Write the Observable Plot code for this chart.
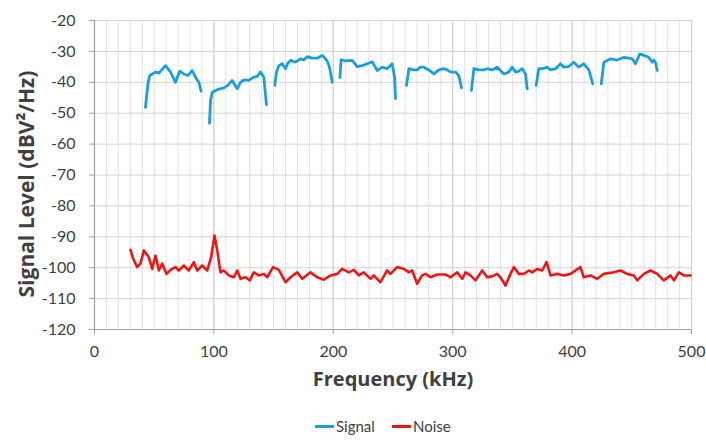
<!DOCTYPE html>
<html>
<head>
<meta charset="utf-8">
<script src="https://cdn.jsdelivr.net/npm/d3@7"></script>
<script src="https://cdn.jsdelivr.net/npm/@observablehq/plot@0.6"></script>
<style>
  html, body { margin: 0; padding: 0; background: #fff; }
  #chart { width: 706px; }
  .legend { position: relative; height: 37px; width: 706px; font-family: Lato, "Open Sans", sans-serif; font-size: 15px; color: #404040; }
  .legend .item { position: absolute; top: 11px; height: 20px; line-height: 20px; display: flex; align-items: center; }
  .legend .sw { display: inline-block; width: 19px; height: 3px; margin-right: 2px; }
</style>
</head>
<body>
<div id="chart"></div>
<script>
// Axis ticks
const xTicks = [0, 100, 200, 300, 400, 500];
const xMinorTicks = d3.range(0, 501, 10);
const yTicks = [-120, -110, -100, -90, -80, -70, -60, -50, -40, -30, -20];

// Signal (kHz, dBV²/Hz) in separate sweep segments
const signalSeg = [
  1,1,1,1,1,1,1,1,1,1,1,1,1,1,1,
  2,2,2,2,2,2,2,2,2,2,2,2,2,2,2,2,
  3,3,3,3,3,3,3,3,3,3,3,3,3,3,3,3,3,3,
  4,4,4,4,4,4,4,4,4,4,4,4,4,4,
  5,5,5,5,5,5,5,5,5,5,5,5,5,5,5,
  6,6,6,6,6,6,6,6,6,6,6,6,6,6,6,
  7,7,7,7,7,7,7,7,7,7,7,7,7,7,
  8,8,8,8,8,8,8,8,8,8,8,8,8,8,8
];
const signalFreq = [
  42.7,44.7,46.3,51.1,53.9,59.5,63.7,67.8,71.4,74.8,78.2,81.8,85.4,87.4,89.3,
  96.3,97.2,98.6,102.8,108.3,111.7,115.3,119.5,122.3,125.1,129.2,133.4,136.3,139,141.8,144,
  151,152.4,154.4,157.2,160,161.9,164.2,168.3,172.5,175.3,178.1,182.3,186.5,190.7,193.5,195.4,197.1,199.1,
  205.5,206.6,210.2,215.8,220,224.2,228.4,232.6,236.8,241,245.1,249.3,251.3,252.1,
  261.3,263.3,267.4,270.2,273,275.8,280,284.2,288.4,292.5,295.4,298.2,302.3,305.1,307.4,
  315.7,317.7,321.9,326,328.9,333.1,337.3,342.8,347,349.8,352.6,355.4,358.2,361,362.4,
  369.9,372.1,375.8,379.1,381.9,386.1,390.3,393.1,397.2,401.4,405.6,409.8,414,417.3,
  424.4,426.6,432.2,437.8,443.3,447.5,450.3,453.1,456.7,460.1,464.2,467.1,468.5,469.8,471.3
];
const signalLevel = [
  -48.1,-40.5,-37.8,-36.7,-37.0,-34.6,-36.7,-40.0,-36.4,-37.3,-37.8,-36.2,-38.9,-40.0,-42.9,
  -53.2,-45.9,-43.2,-42.4,-41.8,-41.0,-39.4,-42.1,-40.0,-39.2,-39.4,-38.3,-38.1,-36.7,-38.3,-47.2,
  -41.0,-36.7,-34.6,-34.0,-35.6,-33.8,-32.9,-33.5,-32.4,-32.8,-31.7,-32.2,-32.2,-31.3,-32.4,-33.5,-35.6,-40.0,
  -38.5,-32.7,-33.1,-32.9,-34.9,-34.6,-34.0,-33.4,-36.2,-35.1,-35.6,-34.0,-38.3,-45.3,
  -41.0,-35.6,-36.0,-36.0,-35.1,-35.1,-36.0,-37.3,-36.0,-35.6,-36.0,-36.7,-36.7,-37.8,-41.8,
  -42.6,-35.6,-36.0,-36.0,-35.6,-36.0,-35.1,-37.3,-36.7,-35.1,-36.7,-36.4,-35.6,-37.3,-42.1,
  -41.0,-35.6,-35.6,-35.1,-36.0,-35.6,-34.0,-35.1,-34.9,-33.5,-35.1,-34.0,-36.0,-40.5,
  -40.5,-33.5,-32.4,-32.8,-31.9,-32.2,-32.4,-34.0,-30.8,-31.3,-31.9,-33.5,-32.8,-33.5,-36.2
];

// Noise (kHz, dBV²/Hz)
const noiseFreq = [
  30.2,32.4,35.7,38.5,41.3,45.5,48.3,51.1,53.9,56.7,60.3,63.7,67.8,70.6,74.8,79,83.2,86,90.2,94.4,
  97.7,100.5,102.8,105.5,108.3,112.5,116.7,119.5,122.3,126.5,130.1,133.4,137.6,141.8,144.6,149.6,154.4,
  160,164.2,169.8,174,180.9,186.5,192,197.7,203.3,207.4,213,217.2,221.4,225.5,231.2,233.9,239.5,245.1,
  247.9,253.5,259.1,263.3,266.1,270.2,274.4,277.2,281.4,287,294,298.2,303.8,308,310.7,314.9,319.1,
  324.7,328.9,333.1,337.3,340,344.2,348.4,351.2,355.4,359.6,363.8,366.6,370.8,375,378.6,381.9,387.5,
  393.1,398.7,407,409.8,415.4,421,426.6,435,440.5,446.1,451.7,454.5,460.1,465.7,471.3,476.8,482.4,
  485.3,489.4,493.6,499.2
];
const noiseLevel = [
  -94.2,-97.1,-99.8,-98.7,-94.4,-96.6,-100.4,-96.1,-100.9,-98.7,-102.0,-100.7,-99.8,-100.9,-99.3,-100.9,-98.2,-100.9,-99.3,-100.9,
  -96.6,-89.6,-94.4,-101.5,-100.9,-102.5,-103.1,-100.9,-103.6,-103.1,-104.1,-101.5,-102.5,-102.0,-103.1,-99.8,-100.7,
  -104.7,-103.1,-101.5,-103.6,-101.5,-103.1,-103.9,-102.5,-102.0,-100.4,-101.5,-100.7,-102.5,-101.5,-103.6,-102.5,-104.7,-100.9,
  -102.0,-99.8,-100.4,-101.5,-100.9,-105.2,-102.5,-102.0,-103.1,-102.2,-102.2,-103.1,-101.5,-103.6,-101.5,-102.5,-104.1,
  -100.9,-103.1,-102.8,-102.0,-103.1,-105.8,-102.0,-99.8,-102.0,-102.0,-100.9,-101.5,-100.4,-100.9,-98.2,-102.5,-102.0,
  -102.5,-102.0,-99.8,-103.1,-102.5,-103.6,-102.0,-101.5,-100.9,-102.0,-102.5,-104.1,-102.0,-100.9,-102.0,-104.1,-102.5,
  -104.1,-101.5,-102.5,-102.5
];

const signalColor = "#1a9fdc";
const noiseColor = "#f01515";

const signal = signalFreq.map((f, i) => ({f, v: signalLevel[i], seg: signalSeg[i]}));
const noise = noiseFreq.map((f, i) => ({f, v: noiseLevel[i]}));

const chart = Plot.plot({
  width: 706,
  height: 405,
  marginLeft: 94,
  marginRight: 15,
  marginTop: 20,
  marginBottom: 76,
  x: {domain: [0, 500]},
  y: {domain: [-120, -20]},
  style: {fontFamily: "Lato, 'Open Sans', sans-serif", fontSize: "16px", color: "#404040", background: "#fff"},
  marks: [
    Plot.ruleX(xMinorTicks, {stroke: "#e2e2e2", strokeWidth: 1}),
    Plot.ruleX(xTicks, {stroke: "#cdcdcd", strokeWidth: 1}),
    Plot.ruleY(yTicks, {stroke: "#d4d4d4", strokeWidth: 1}),
    Plot.ruleX([0], {stroke: "#a0a0a0", strokeWidth: 1.2}),
    Plot.ruleY([-120], {stroke: "#a0a0a0", strokeWidth: 1.2}),
    Plot.axisY({ticks: yTicks, tickSize: 5, tickPadding: 14, stroke: "#a0a0a0", tickFormat: d => String(d), label: null, fill: "#404040", fontSize: 16}),
    Plot.axisX({ticks: xTicks, tickSize: 5, tickPadding: 11, stroke: "#a0a0a0", tickFormat: d => String(d), label: null, fill: "#404040", fontSize: 16}),
    Plot.line(noise, {x: "f", y: "v", stroke: noiseColor, strokeWidth: 2.6, curve: "linear"}),
    Plot.line(signal, {x: "f", y: "v", z: "seg", stroke: signalColor, strokeWidth: 2.8, curve: "linear"}),
    Plot.text(["Frequency (kHz)"], {frameAnchor: "bottom", dy: 56, fontFamily: "'Open Sans', sans-serif", fontSize: 20, fontWeight: "bold", fill: "#404040"}),
    Plot.text(["Signal Level (dBV²/Hz)"], {frameAnchor: "left", textAnchor: "middle", dx: -67, dy: 9, rotate: -90, fontFamily: "'Open Sans', sans-serif", fontSize: 21, fontWeight: "bold", fill: "#404040"})
  ]
});
document.getElementById("chart").appendChild(chart);

const legend = document.createElement("div");
legend.className = "legend";
legend.innerHTML =
  `<div class="item" style="left:315px"><span class="sw" style="background:${signalColor}"></span>Signal</div>` +
  `<div class="item" style="left:392px"><span class="sw" style="background:${noiseColor}"></span>Noise</div>`;
document.body.appendChild(legend);
</script>
</body>
</html>
